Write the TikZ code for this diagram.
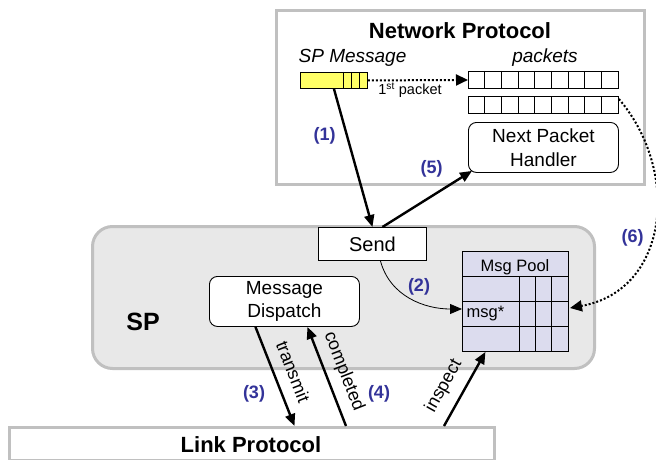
\documentclass[tikz,border=0pt]{standalone}
\usepackage{fontspec}
\setmainfont{Liberation Sans}
\usetikzlibrary{arrows.meta,calc}
\definecolor{frameGray}{HTML}{C0C0C0}
\definecolor{spFill}{HTML}{E8E8E8}
\definecolor{poolFill}{HTML}{DCDCEE}
\definecolor{msgYellow}{HTML}{FFFF66}
\definecolor{numBlue}{HTML}{333399}
\begin{document}
\begin{tikzpicture}[x=1pt,y=-1pt,
  font=\fontsize{19}{23}\selectfont,
  graybox/.style={draw=frameGray,line width=3pt,inner sep=0pt},
  blk/.style={draw=black,line width=0.9pt,inner sep=0pt},
  arr/.style={line width=2.4pt,-{Triangle[length=12pt,width=10pt]}},
  arrback/.style={line width=2.4pt,{Triangle[length=12pt,width=10pt]}-},
  thinarr/.style={line width=0.8pt,-{Triangle[length=12pt,width=10pt]}},
  dotline/.style={line width=2pt,dash pattern=on 2pt off 2pt,-{Triangle[length=12pt,width=11pt]}},
  num/.style={text=numBlue,font=\fontsize{18}{20}\selectfont\bfseries},
  title/.style={font=\fontsize{22}{24}\selectfont\bfseries,anchor=base},
  lbl/.style={font=\fontsize{18}{20}\selectfont,inner sep=1pt}]
\useasboundingbox (0,0) rectangle (656,460);

% Network protocol frame
\node[graybox,fill=white,minimum width=368,minimum height=174,anchor=north west] (net) at (275,9) {};
\node[title] (nettitle) at (460,39) {Network Protocol};
\node[anchor=base,font=\fontsize{19}{23}\selectfont\itshape] (spmsglbl) at (352.5,63) {SP Message};
\node[anchor=base,font=\fontsize{19}{23}\selectfont\itshape] (pktlbl) at (545,63) {packets};

% yellow message
\node[blk,fill=msgYellow,minimum width=67,minimum height=16,anchor=north west] (ym) at (300,72) {};
\foreach \x in {343,351,359} \draw[line width=0.9pt] (\x,72) -- (\x,88);

% packets
\node[blk,minimum width=150,minimum height=17,anchor=north west] (pk1) at (468,71) {};
\node[blk,minimum width=150,minimum height=17,anchor=north west] (pk2) at (468,96) {};
\foreach \i in {1,...,8} {
  \draw[line width=0.9pt] (468+\i*16.667,71) -- ++(0,17);
  \draw[line width=0.9pt] (468+\i*16.667,96) -- ++(0,17);
}
\node[blk,fill=white,rounded corners=8pt,minimum width=150,minimum height=50,anchor=north west,align=center] (nph) at (468,122) {Next Packet\\[1pt]Handler};

\draw[dotline] (ym.east) -- (pk1.west);
\node[anchor=base,font=\fontsize{14.5}{16}\selectfont] (firstpkt) at (410,95) {1\textsuperscript{st} packet};

% SP frame
\node[draw=frameGray,line width=3pt,fill=spFill,rounded corners=20pt,minimum width=502,minimum height=142,anchor=north west] (sp) at (91,225) {};
\node[anchor=base,font=\fontsize{25}{27}\selectfont\bfseries] (splbl) at (143,330.7) {SP};

\node[blk,fill=white,minimum width=108,minimum height=33,anchor=north west,font=\fontsize{20}{23}\selectfont] (send) at (318,227) {Send};
\node[blk,fill=white,rounded corners=8pt,minimum width=150,minimum height=50,anchor=north west,align=center] (disp) at (209,276) {Message\\[0pt]Dispatch};

% Msg pool
\node[blk,fill=poolFill,minimum width=106,minimum height=100,anchor=north west] (pool) at (462,251) {};
\foreach \yy in {276,301,326} \draw[line width=0.9pt] (462,\yy) -- (568,\yy);
\foreach \x in {519,535,551} \draw[line width=0.9pt] (\x,276) -- (\x,351);
\node[anchor=base,font=\fontsize{16.5}{18}\selectfont] (poollbl) at (515,271.7) {Msg Pool};
\node[anchor=base west,inner sep=0pt,font=\fontsize{16.5}{18}\selectfont] (msgstar) at (466.5,317) {msg*};

% Link protocol
\node[graybox,fill=white,minimum width=485,minimum height=33,anchor=north west] (link) at (8,426) {};
\node[title] (linktitle) at (251,452.7) {Link Protocol};

% connectors
\draw[arr] (ym.south) -- (send.north);
\draw[arr] ([xshift=10pt]send.north) -- ([xshift=4pt,yshift=2pt]nph.south west);
\draw[thinarr] ([xshift=8pt]send.south) to[out=-75,in=180] ($(pool.north west)+(0,58)$);
\draw[dotline] ([yshift=-3pt]pk2.north east) .. controls (680,170) and (670,290) .. ($(pool.north west)+(108,57)$);
\draw[arr] ([xshift=-29pt]disp.south) -- ([xshift=42.5pt]link.north)
  node[lbl,pos=0.52,sloped,above=10pt] {transmit};
\draw[arrback] ([xshift=23pt]disp.south) -- ([xshift=94pt]link.north)
  node[lbl,pos=0.515,sloped,above=7pt] {completed};
\draw[arr] ([xshift=192pt]link.north) -- ([xshift=-30pt]pool.south)
  node[lbl,pos=0.41,sloped,above=9pt] {inspect};

% step numbers
\node[num] (n1) at (324.7,136) {(1)};
\node[num] (n2) at (419,287) {(2)};
\node[num] (n3) at (254,394) {(3)};
\node[num] (n4) at (379,394) {(4)};
\node[num] (n5) at (431.7,169) {(5)};
\node[num] (n6) at (632.5,237.5) {(6)};
\end{tikzpicture}
\end{document}
